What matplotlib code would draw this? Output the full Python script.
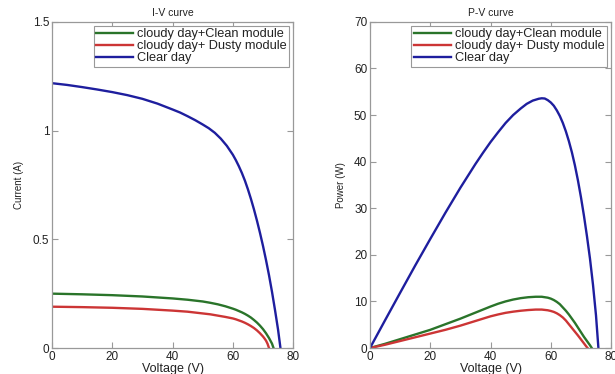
import matplotlib
matplotlib.use("Agg")
import matplotlib.pyplot as plt

# ---------------- data ----------------
labels = ["cloudy day+Clean module", "cloudy day+ Dusty module", "Clear day"]

# I-V curves
v_iv_clean = [0, 10, 20, 30, 40, 45, 50, 52.5, 55, 57.5, 60, 61, 62, 63, 64, 65, 66, 67,
              68, 69, 70, 71, 72, 73, 73.5]
i_clean    = [0.250, 0.247, 0.243, 0.237, 0.228, 0.222, 0.214, 0.208, 0.201, 0.192,
              0.181, 0.176, 0.170, 0.164, 0.157, 0.149, 0.140, 0.129, 0.117, 0.103,
              0.087, 0.068, 0.046, 0.020, 0.0]

v_iv_dusty = [0, 10, 20, 30, 40, 45, 50, 52.5, 55, 57.5, 60, 61, 62, 63, 64, 65, 66, 67,
              68, 69, 70, 70.5, 71, 71.5, 72]
i_dusty    = [0.190, 0.188, 0.185, 0.180, 0.172, 0.167, 0.159, 0.155, 0.149, 0.143,
              0.136, 0.132, 0.127, 0.122, 0.116, 0.109, 0.101, 0.092, 0.081, 0.068,
              0.053, 0.044, 0.034, 0.020, 0.0]

v_iv_clear = [0, 5, 10, 15, 20, 25, 30, 35, 40, 42.5, 45, 47.5, 50, 52, 54, 56, 58, 60,
              61, 62, 63, 64, 65, 66, 67, 68, 69, 70, 71, 72, 73, 74, 75, 75.8]
i_clear    = [1.218, 1.210, 1.200, 1.189, 1.177, 1.163, 1.146, 1.124, 1.097, 1.083,
              1.066, 1.048, 1.028, 1.011, 0.990, 0.963, 0.930, 0.889, 0.864, 0.836,
              0.805, 0.770, 0.730, 0.686, 0.638, 0.586, 0.530, 0.470, 0.405, 0.335,
              0.258, 0.174, 0.085, 0.0]

# P-V curves
v_pv_clean = [0, 5, 10, 15, 20, 25, 30, 35, 40, 42.5, 45, 47.5, 50, 52.5, 55, 57, 59,
              60, 61, 62, 63, 64, 65, 66, 67, 68, 69, 70, 71, 72, 73, 73.6]
p_clean    = [0, 0.9, 1.9, 2.9, 3.9, 5.1, 6.3, 7.6, 8.9, 9.5, 10.0, 10.4, 10.7, 10.9,
              11.0, 11.0, 10.8, 10.6, 10.3, 9.9, 9.4, 8.7, 8.0, 7.2, 6.3, 5.4, 4.4,
              3.4, 2.4, 1.5, 0.6, 0]

v_pv_dusty = [0, 5, 10, 15, 20, 25, 30, 35, 40, 42.5, 45, 47.5, 50, 52.5, 55, 57, 59,
              60, 61, 62, 63, 64, 65, 66, 67, 68, 69, 70, 71, 72, 72.2]
p_dusty    = [0, 0.7, 1.5, 2.3, 3.1, 3.9, 4.8, 5.8, 6.8, 7.2, 7.55, 7.8, 8.0, 8.15,
              8.25, 8.25, 8.1, 7.95, 7.75, 7.45, 7.05, 6.55, 5.9, 5.1, 4.3, 3.5, 2.7,
              1.85, 1.0, 0.15, 0]

v_pv_clear = [0, 5, 10, 15, 20, 25, 30, 35, 37.5, 40, 42.5, 45, 47.5, 50, 52, 54, 56,
              57, 58, 59, 60, 61, 62, 63, 64, 65, 66, 67, 68, 69, 70, 71, 72, 73, 74,
              75, 75.8]
p_clear    = [0, 5.95, 11.85, 17.7, 23.4, 29.0, 34.4, 39.5, 41.9, 44.2, 46.3, 48.3,
              50.0, 51.4, 52.4, 53.1, 53.5, 53.6, 53.55, 53.2, 52.7, 52.0, 51.0, 49.8,
              48.3, 46.5, 44.4, 42.0, 39.2, 36.0, 32.4, 28.4, 24.0, 19.2, 13.6, 7.0, 0]

x_ticks = [0, 20, 40, 60, 80]
iv_yticks = [0, 0.5, 1, 1.5]
iv_yticklabels = ["0", "0.5", "1", "1.5"]
pv_yticks = [0, 10, 20, 30, 40, 50, 60, 70]

colors = ["#2a742a", "#cc3535", "#1e1e9e"]

# ---------------- figure ----------------
plt.rcParams['font.family'] = ['Liberation Sans', 'DejaVu Sans']
fig = plt.figure(figsize=(6.15, 3.74), dpi=100)

ax1 = fig.add_axes([0.0846, 0.0695, 0.392, 0.872])
ax2 = fig.add_axes([0.6016, 0.0695, 0.392, 0.872])

for v, i, c, lab in zip([v_iv_clean, v_iv_dusty, v_iv_clear],
                        [i_clean, i_dusty, i_clear], colors, labels):
    ax1.plot(v, i, color=c, lw=1.7, label=lab, solid_joinstyle='round')

for v, p, c, lab in zip([v_pv_clean, v_pv_dusty, v_pv_clear],
                        [p_clean, p_dusty, p_clear], colors, labels):
    ax2.plot(v, p, color=c, lw=1.7, label=lab, solid_joinstyle='round')

ax1.set_xlim(0, 80)
ax1.set_ylim(0, 1.5)
ax1.set_yticks(iv_yticks)
ax1.set_yticklabels(iv_yticklabels)
ax2.set_xlim(0, 80)
ax2.set_ylim(0, 70)
ax2.set_yticks(pv_yticks)

for ax in (ax1, ax2):
    ax.set_xticks(x_ticks)
    for s in ax.spines.values():
        s.set_color("#999999")
        s.set_linewidth(0.9)
    ax.tick_params(direction='in', length=4, width=0.8, color="#999999",
                   top=True, right=True, labelsize=8.5, labelcolor="#222222", pad=2)
    ax.set_xlabel("Voltage (V)", fontsize=9, color="#222222", labelpad=0)
    leg = ax.legend(loc='upper right', fontsize=9.2, handlelength=2.9,
                    borderpad=0.2, labelspacing=0.0, handletextpad=0.3,
                    borderaxespad=0.3, fancybox=False, framealpha=1)
    leg.get_frame().set_edgecolor("#999999")
    leg.get_frame().set_linewidth(0.8)
    for t in leg.get_texts():
        t.set_color("#222222")

ax1.set_title("I-V curve", fontsize=7.5, color="#222222", pad=4)
ax2.set_title("P-V curve", fontsize=7.5, color="#222222", pad=4)
ax1.set_ylabel("Current (A)", fontsize=7, color="#222222", labelpad=6)
ax2.set_ylabel("Power (W)", fontsize=7, color="#222222", labelpad=6)

fig.savefig("out.png", dpi=100)
